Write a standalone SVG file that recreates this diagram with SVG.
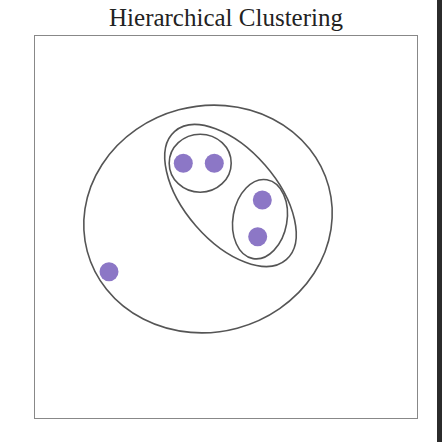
<svg xmlns="http://www.w3.org/2000/svg" width="442" height="442" viewBox="0 0 442 442">
<style>
.cl{fill:none;stroke:#555;stroke-width:1.6}
.pt{fill:#8c77c6}
.frame{fill:#fff;stroke:#888;stroke-width:1}
.title{font-family:"Liberation Serif","DejaVu Serif",serif;font-size:25px;fill:#222}
</style>
<rect width="442" height="442" fill="#fff"/>
<rect x="437" y="0" width="5" height="442" fill="#2b2b2b"/>
<text class="title" x="226" y="26" text-anchor="middle">Hierarchical Clustering</text>
<rect class="frame" x="34.5" y="35.5" width="383" height="383"/>
<g id="connectors"></g>
<g id="cluster-all"><ellipse class="cl" cx="208" cy="219" rx="125" ry="113" transform="rotate(-15 208 219)"/></g>
<g id="cluster-mid"><ellipse class="cl" cx="230.5" cy="195.5" rx="85" ry="46" transform="rotate(49 230.5 195.5)"/></g>
<g id="cluster-top"><ellipse class="cl" cx="200.2" cy="163.2" rx="31" ry="29"/></g>
<g id="cluster-right"><ellipse class="cl" cx="260" cy="219.2" rx="27" ry="40" transform="rotate(10 260 219.2)"/></g>
<g id="p1"><circle class="pt" cx="183.3" cy="163.3" r="9.5"/></g>
<g id="p2"><circle class="pt" cx="214.3" cy="163.3" r="9.5"/></g>
<g id="p3"><circle class="pt" cx="262.3" cy="200" r="9.5"/></g>
<g id="p4"><circle class="pt" cx="257.7" cy="236.7" r="9.5"/></g>
<g id="p5"><circle class="pt" cx="109" cy="271.7" r="9.5"/></g>
</svg>
